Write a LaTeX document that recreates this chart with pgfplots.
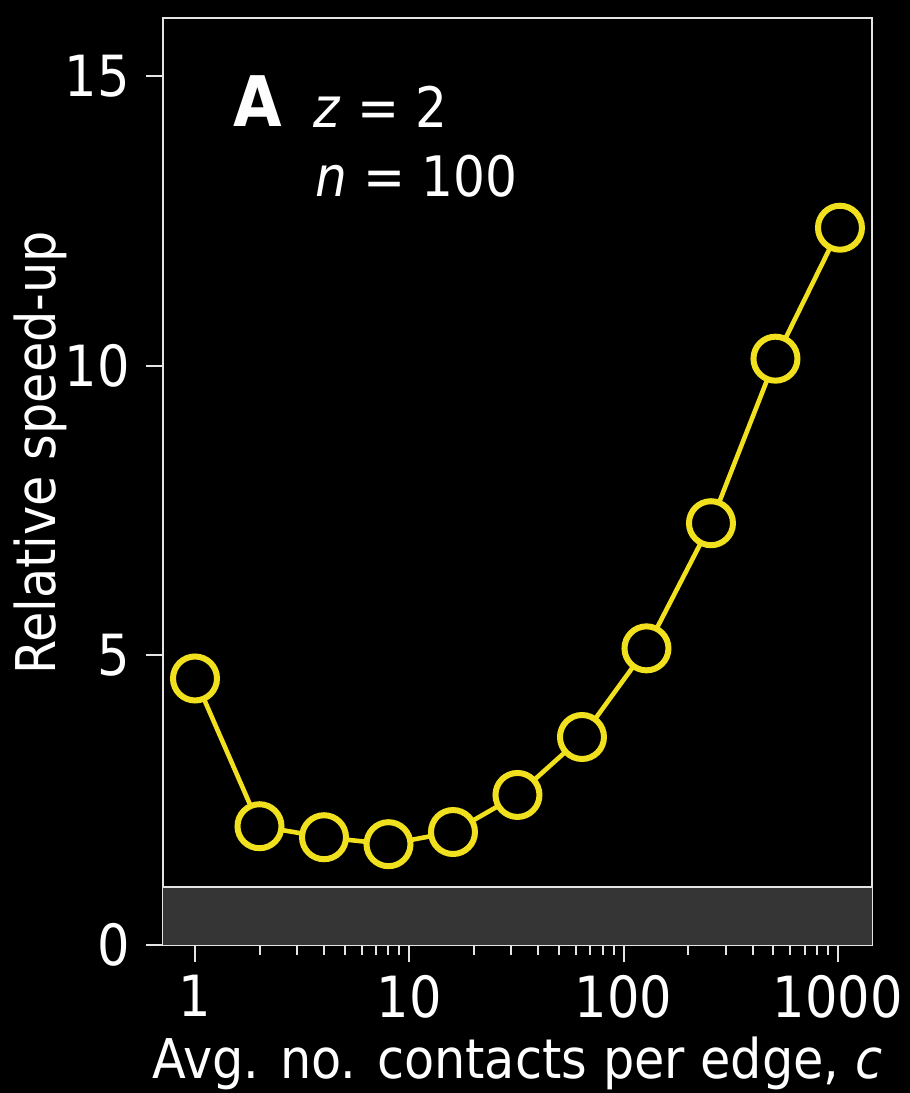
\documentclass[border=0pt]{standalone}
\usepackage{pgfplots}
\pgfplotsset{compat=1.18}
\usepackage{fontspec}
\setmainfont{DejaVu Sans Condensed}
\definecolor{yel}{HTML}{F0E01E}
\definecolor{band}{HTML}{353535}
\definecolor{framec}{HTML}{E4E4E4}
\begin{document}
\begin{tikzpicture}
\fill[black] (-81.5bp,-74bp) rectangle (373.5bp,472.5bp);
\useasboundingbox (-81.5bp,-74bp) rectangle (373.5bp,472.5bp);
\begin{axis}[
  at={(0,0)}, anchor=south west,
  scale only axis, width=354.5bp, height=463.5bp,
  xmode=log, xmin=0.709, xmax=1445, ymin=0, ymax=16,
  axis line style={framec, line width=1bp},
  xtick={1,10,100,1000}, xticklabels={1,10,100,1000},
  ytick={0,5,10,15},
  tick align=outside, major tick length=8.5bp, minor tick length=5bp,
  xtick pos=bottom, ytick pos=left,
  every tick/.style={framec, line width=1bp},
  minor tick style={framec, line width=1bp},
  ticklabel style={font=\fontsize{28.5}{32}\selectfont, text=white},
  xticklabel style={yshift=-3bp},
  yticklabel style={xshift=-4.5bp},
  /pgf/number format/assume math mode=true,
  xlabel={Avg. no. contacts per edge, \textit{c}},
  ylabel={Relative speed-up},
  label style={font=\fontsize{27.5}{32}\selectfont, text=white},
  xlabel style={at={(axis description cs:0.5,0)}, anchor=base, yshift=-66.5bp},
  ylabel style={at={(axis description cs:-0.1735,0.531)}, anchor=center},
  clip=false,
]
\addplot[draw=none, fill=band] coordinates {(0.709,1) (1445,1)} \closedcycle;
\addplot[framec, line width=1.2bp] coordinates {(0.709,1) (1445,1)};
\addplot[yel, line width=2.3bp, mark=*, mark size=11bp,
  mark options={fill=black, draw=yel, line width=3bp}] coordinates {
  (1,4.60) (2,2.05) (4,1.86) (8,1.74) (16,1.95) (32,2.59)
  (64,3.59) (128,5.12) (256,7.28) (512,10.12) (1024,12.38)};
\node[anchor=base west, text=white, font=\fontsize{35}{38}\selectfont\bfseries, inner sep=0pt]
  at (rel axis cs:0,1) [xshift=35.25bp, yshift=-54.5bp] {A};
\node[anchor=base west, text=white, font=\fontsize{28}{32}\selectfont, inner sep=0pt]
  at (rel axis cs:0,1) [xshift=75.25bp, yshift=-55bp] {\textit{z} = 2};
\node[anchor=base west, text=white, font=\fontsize{28}{32}\selectfont, inner sep=0pt]
  at (rel axis cs:0,1) [xshift=76.25bp, yshift=-89.5bp] {\textit{n} = 100};
\end{axis}
\end{tikzpicture}
\end{document}
